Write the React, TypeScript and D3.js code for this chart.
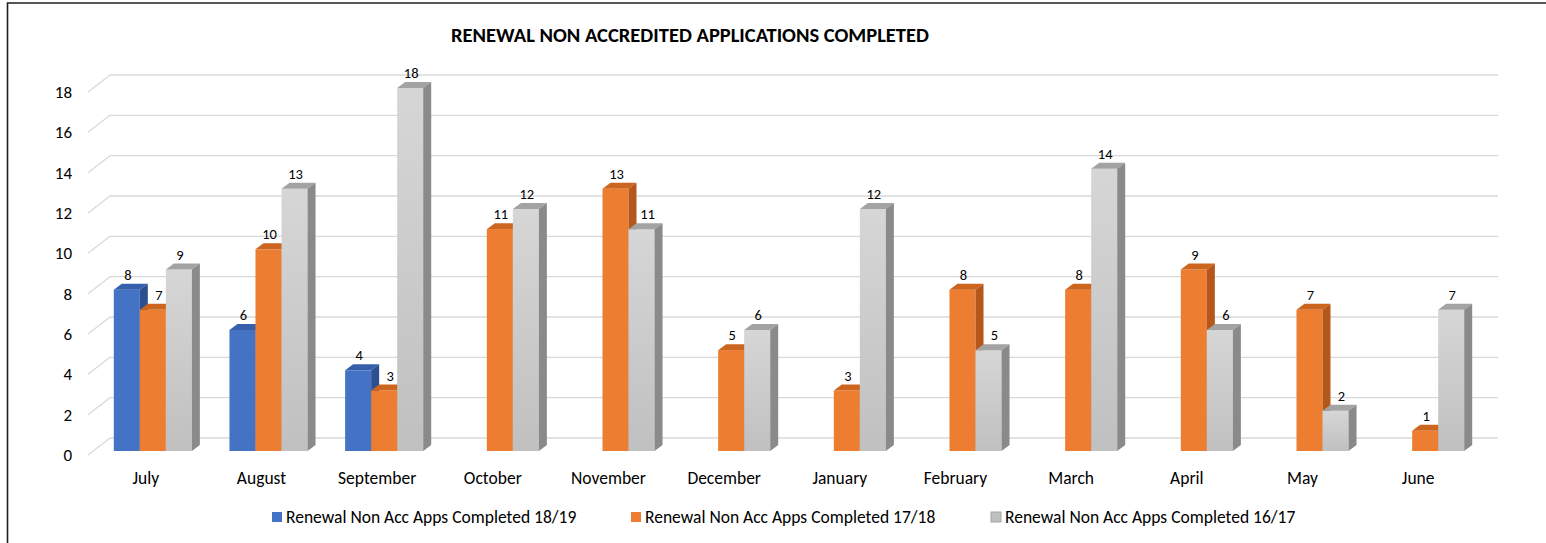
import React from 'react';
import * as d3 from 'd3';

const months = ['July', 'August', 'September', 'October', 'November', 'December', 'January', 'February', 'March', 'April', 'May', 'June'];
const seriesNames = ['Renewal Non Acc Apps Completed 18/19', 'Renewal Non Acc Apps Completed 17/18', 'Renewal Non Acc Apps Completed 16/17'];
const apps1819 = [8, 6, 4, null, null, null, null, null, null, null, null, null];
const apps1718 = [7, 10, 3, 11, 13, 5, 3, 8, 8, 9, 7, 1];
const apps1617 = [9, 13, 18, 12, 11, 6, 12, 5, 14, 6, 2, 7];
const yTicks = [0, 2, 4, 6, 8, 10, 12, 14, 16, 18];

const palette = [
  { front: '#4472C4', top: '#3660AC', side: '#2C4F8F' },
  { front: '#ED7D31', top: '#CC661F', side: '#B5561A' },
  { front: 'url(#greyFront)', top: '#A3A3A3', side: '#8A8A8A', swatch: '#BFBFBF' },
];

const FONT = 'Carlito, Lato, "Open Sans", sans-serif';

const W = 1546;
const H = 543;
// depth of the box (side wall) and of the bars
const wallDx = 22, wallDy = -17;
const barOffX = 7, barOffY = -4;
const barDx = 8, barDy = -6;

export default function App() {
  const data = [apps1819, apps1718, apps1617];

  const x = d3.scaleBand<string>().domain(months).range([88, 1476]).padding(0);
  const xBars = d3.scaleBand<string>().domain(months).range([88 + barOffX, 1476 + barOffX])
    .paddingInner(0.325).paddingOuter(0.1625);
  const xSeries = d3.scaleBand<number>().domain([0, 1, 2]).range([0, xBars.bandwidth()]);
  const y = d3.scaleLinear().domain([0, 18]).range([455, 92]);

  const bars: JSX.Element[] = [];
  months.forEach((m, mi) => {
    data.forEach((vals, si) => {
      const v = vals[mi];
      if (v == null) return;
      const c = palette[si];
      const x0 = (xBars(m) as number) + (xSeries(si) as number);
      const w = xSeries.bandwidth();
      const yb = y(0) + barOffY;
      const yt = y(v) + barOffY;
      const topPts = [[x0, yt], [x0 + barDx, yt + barDy], [x0 + w + barDx, yt + barDy], [x0 + w, yt]];
      const sidePts = [[x0 + w, yt], [x0 + w + barDx, yt + barDy], [x0 + w + barDx, yb + barDy], [x0 + w, yb]];
      // previous (taller) bar hides label centre a little -> nudge right
      const prev = si > 0 ? data[si - 1][mi] : null;
      const nudge = prev != null && prev > v ? 5 : 0;
      bars.push(
        <g key={`${m}-${si}`}>
          <rect x={x0} y={yt} width={w} height={yb - yt} fill={c.front} />
          <polygon points={topPts.map(p => p.join(',')).join(' ')} fill={c.top} />
          <polygon points={sidePts.map(p => p.join(',')).join(' ')} fill={c.side} />
          <text x={x0 + w / 2 + 1 + nudge} y={yt - 10} textAnchor="middle" fontSize={14.5} fill="#000" fontFamily={FONT}>{v}</text>
        </g>
      );
    });
  });

  const legendX = [272, 631, 991];

  return (
    <svg width={W} height={H} style={{ position: 'absolute', left: 0, top: 0, background: '#fff' }}>
      <defs>
        <linearGradient id="greyFront" x1="0" y1="0" x2="0" y2="1">
          <stop offset="0%" stopColor="#D6D6D6" />
          <stop offset="100%" stopColor="#C0C0C0" />
        </linearGradient>
      </defs>
      <rect x={0} y={0} width={W} height={H} fill="#fff" />
      <path d={`M7.5,${H} L7.5,3 L${W},3`} fill="none" stroke="#1f1f1f" strokeWidth={1.6} />

      <text x={690} y={42} textAnchor="middle" fontSize={20.5} fontWeight="bold" fontFamily={FONT} fill="#000">
        RENEWAL NON ACCREDITED APPLICATIONS COMPLETED
      </text>

      {/* side wall + back wall gridlines */}
      {yTicks.map(t => (
        <g key={t}>
          <line x1={88} y1={y(t)} x2={88 + wallDx} y2={y(t) + wallDy} stroke="#D9D9D9" strokeWidth={1.3} />
          <line x1={88 + wallDx} y1={y(t) + wallDy} x2={1476 + wallDx} y2={y(t) + wallDy} stroke="#D9D9D9" strokeWidth={1.3} />
          <text x={72} y={y(t)} dy="0.35em" textAnchor="end" fontSize={17} fontFamily={FONT} fill="#000">{t}</text>
        </g>
      ))}

      {bars}

      {months.map(m => (
        <text key={m} x={(x(m) as number) + x.bandwidth() / 2} y={484} textAnchor="middle" fontSize={17.5} fontFamily={FONT} fill="#000">{m}</text>
      ))}

      {seriesNames.map((s, i) => (
        <g key={s}>
          <rect x={legendX[i]} y={512} width={10} height={10} fill={palette[i].swatch || palette[i].front} stroke={i === 2 ? '#A6A6A6' : 'none'} />
          <text x={legendX[i] + 14} y={523} fontSize={17.5} fontFamily={FONT} fill="#000">{s}</text>
        </g>
      ))}
    </svg>
  );
}
